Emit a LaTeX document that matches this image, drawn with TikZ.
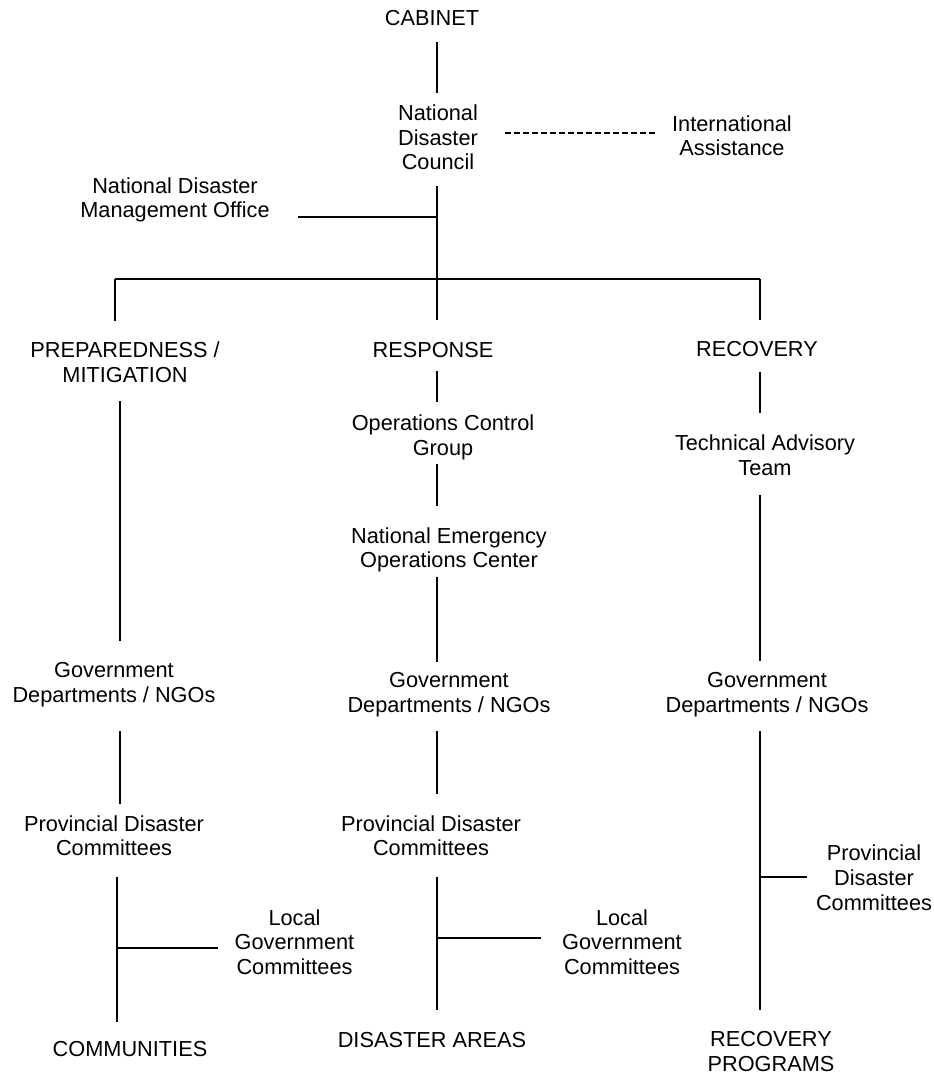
\documentclass[tikz,border=0pt]{standalone}
\usepackage{fontspec}
\setmainfont{Liberation Sans}
\begin{document}
\begin{tikzpicture}[x=0.75pt,y=-0.75pt,
  lbl/.style={inner sep=0pt, outer sep=0pt, align=center, font=\fontsize{16.3}{18.4}\selectfont},
  conn/.style={line width=1.1pt},
  dashconn/.style={conn, dash pattern=on 4.5pt off 2.25pt}]
\fill[white] (0,0) rectangle (933,1074);
\useasboundingbox (0,0) rectangle (933,1074);

% nodes
\node[lbl] (cab)   at (432,18)     {CABINET};
\node[lbl] (ndc)   at (438,137.5)  {National\\Disaster\\Council};
\node[lbl] (intl)  at (732,135.5)  {International\\Assistance};
\node[lbl] (ndmo)  at (175,199.8)  {National Disaster\\Management Office};
\node[lbl] (prep)  at (125,362)    {PREPAREDNESS /\\MITIGATION};
\node[lbl] (resp)  at (433,350)    {RESPONSE};
\node[lbl] (recov) at (757,349)    {RECOVERY};
\node[lbl] (ocg)   at (443,437.3)  {Operations Control\\Group};
\node[lbl] (neoc)  at (449,549.8)  {National Emergency\\Operations Center};
\node[lbl] (tat)   at (765,455)    {Technical Advisory\\Team};
\node[lbl] (gov1)  at (114,684.8)  {Government\\Departments / NGOs};
\node[lbl] (gov2)  at (449,694.8)  {Government\\Departments / NGOs};
\node[lbl] (gov3)  at (767,694.8)  {Government\\Departments / NGOs};
\node[lbl] (pdc1)  at (114,835.7)  {Provincial Disaster\\Committees};
\node[lbl] (pdc2)  at (431,835.7)  {Provincial Disaster\\Committees};
\node[lbl] (pdc3)  at (874,877.7)  {Provincial\\Disaster\\Committees};
\node[lbl] (lgc1)  at (294.5,942)  {Local\\Government\\Committees};
\node[lbl] (lgc2)  at (622,942)    {Local\\Government\\Committees};
\node[lbl] (comm)  at (130,1049)   {COMMUNITIES};
\node[lbl] (dis)   at (432,1040)   {DISASTER AREAS};
\node[lbl] (rp)    at (771,1051.5) {RECOVERY\\PROGRAMS};

% junction coordinates
\coordinate (jc)  at (437,279);
\coordinate (jl)  at (115,279);
\coordinate (jr)  at (760,279);
\coordinate (jo)  at (437,217);
\coordinate (dsh) at (560,133);
\coordinate (xl)  at (120,500);
\coordinate (bl)  at (117,948);
\coordinate (bm)  at (437,938);
\coordinate (br)  at (760,877);

% top
\draw[conn, shorten <=12.1pt, shorten >=9.1pt] (cab.south -| jc) -- (ndc.north -| jc);
\draw[conn, shorten <=12.1pt] (ndc.south -| jc) -- (jc);
\draw[conn, shorten <=21pt] (jo -| ndmo.east) -- (jo);
\draw[dashconn, shorten <=20.25pt, shorten >=12.75pt] (dsh -| ndc.east) -- (dsh -| intl.west);
\draw[conn] (jl) -- (jr);
\draw[conn, shorten >=15.8pt] (jl) -- (jl |- prep.north);
\draw[conn, shorten >=16.5pt] (jc) -- (jc |- resp.north);
\draw[conn, shorten >=15.8pt] (jr) -- (jr |- recov.north);

% left column
\draw[conn, shorten <=14.3pt, shorten >=16.6pt] (prep.south -| xl) -- (gov1.north -| xl);
\draw[conn, shorten <=18.4pt, shorten >=8.3pt] (gov1.south -| xl) -- (pdc1.north -| xl);
\draw[conn, shorten <=15.8pt, shorten >=14.3pt] (pdc1.south -| bl) -- (comm.north -| bl);
\draw[conn, shorten >=12.4pt] (bl) -- (bl -| lgc1.west);

% middle column
\draw[conn, shorten <=9.8pt, shorten >=9.8pt] (resp.south -| jc) -- (ocg.north -| jc);
\draw[conn, shorten <=3.4pt, shorten >=15.8pt] (ocg.south -| jc) -- (neoc.north -| jc);
\draw[conn, shorten <=3.4pt, shorten >=8.3pt] (neoc.south -| jc) -- (gov2.north -| jc);
\draw[conn, shorten <=10.9pt, shorten >=15.8pt] (gov2.south -| jc) -- (pdc2.north -| jc);
\draw[conn, shorten <=15.8pt, shorten >=16.6pt] (pdc2.south -| jc) -- (dis.north -| jc);
\draw[conn, shorten >=15.8pt] (bm) -- (bm -| lgc2.west);

% right column
\draw[conn, shorten <=11.3pt, shorten >=16.6pt] (recov.south -| jr) -- (tat.north -| jr);
\draw[conn, shorten <=15.1pt, shorten >=9.1pt] (tat.south -| jr) -- (gov3.north -| jr);
\draw[conn, shorten <=10.9pt, shorten >=15.8pt] (gov3.south -| jr) -- (rp.north -| jr);
\draw[conn, shorten >=6.8pt] (br) -- (br -| pdc3.west);
\end{tikzpicture}
\end{document}
